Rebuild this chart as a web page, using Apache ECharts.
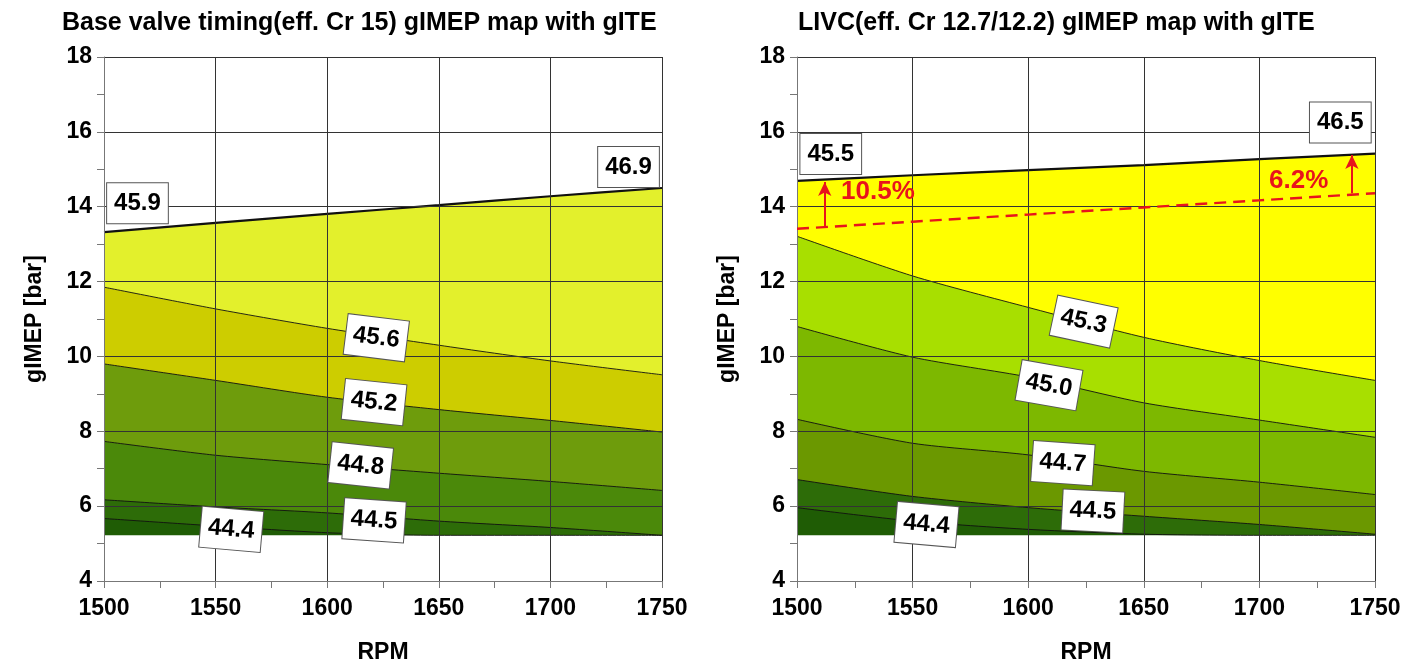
<!DOCTYPE html>
<html>
<head>
<meta charset="utf-8">
<script src="https://cdn.jsdelivr.net/npm/echarts@6/dist/echarts.min.js"></script>
<style>
  html, body { margin: 0; padding: 0; background: #fff; }
  #chart { width: 1413px; height: 669px; }
</style>
</head>
<body>
<div id="chart"></div>
<script>
// RPM points where the contour lines were read
var rpm = [1500, 1550, 1600, 1650, 1700, 1750];

// bottom edge of the mapped region (both maps)
var floorLine = [5.22, 5.22, 5.22, 5.22, 5.22, 5.22];

// left map: base valve timing, contour lines (gIMEP [bar] at each rpm)
var left444 = [5.67, 5.47, 5.29, 5.22, 5.22, 5.22];
var left445 = [6.17, 5.98, 5.82, 5.60, 5.43, 5.22];
var left448 = [7.73, 7.36, 7.11, 6.88, 6.66, 6.42];
var left452 = [9.80, 9.36, 8.91, 8.58, 8.29, 7.98];
var left456 = [11.85, 11.27, 10.75, 10.30, 9.88, 9.51];
var leftTop = [13.32, 13.57, 13.81, 14.04, 14.28, 14.50];

// right map: LIVC
var right444 = [5.96, 5.60, 5.38, 5.25, 5.22, 5.22];
var right445 = [6.71, 6.26, 5.96, 5.73, 5.51, 5.25];
var right447 = [8.32, 7.68, 7.37, 6.93, 6.64, 6.31];
var right450 = [10.80, 9.98, 9.45, 8.76, 8.30, 7.84];
var right453 = [13.21, 12.15, 11.31, 10.51, 9.89, 9.36];
var rightTop = [14.69, 14.84, 14.98, 15.11, 15.27, 15.42];
// base valve timing max load, drawn dashed on the right map
var rightBaseTop = [13.41, 13.60, 13.79, 13.98, 14.17, 14.36];

// contour labels: [text, rpm, gIMEP, angle]
var leftLabels = [
  ['45.9', 1515, 14.09, 0],
  ['46.9', 1735, 15.06, 0],
  ['45.6', 1622, 10.50, -7],
  ['45.2', 1621, 8.78, -6],
  ['44.8', 1615, 7.09, -6],
  ['44.5', 1621, 5.62, -4],
  ['44.4', 1557, 5.38, -5]
];
var rightLabels = [
  ['45.5', 1514.6, 15.41, 0],
  ['46.5', 1735, 16.25, 0],
  ['45.3', 1624, 10.93, -12],
  ['45.0', 1609, 9.23, -10],
  ['44.7', 1615, 7.15, -4],
  ['44.5', 1628, 5.87, -3],
  ['44.4', 1556, 5.51, -5]
];
// load gain arrows: [text, text rpm, text gIMEP, arrow rpm, from, to]
var gains = [
  ['10.5%', 1535, 14.40, 1512, 13.47, 14.66],
  ['6.2%', 1717, 14.69, 1740, 14.36, 15.38]
];

// band colours, top band first
var leftColors = ['#e3f02c', '#cdcd00', '#6e9c0c', '#4b890a', '#2d6c08', '#1f5c05'];
var rightColors = ['#ffff00', '#a8df00', '#7db800', '#6b9800', '#2d6c08', '#1f5c05'];

var FONT = '"Liberation Sans", Arial, sans-serif';

function pairs(arr) {
  return rpm.map(function (r, i) { return [r, arr[i]]; });
}

// each contour filled down to the axis, top one first so lower bands paint over it
function bands(idx, lines, colors) {
  var out = lines.map(function (ln, b) {
    return {
      type: 'line', xAxisIndex: idx, yAxisIndex: idx, z: 2,
      symbol: 'none', silent: true, smooth: 0.25,
      lineStyle: { color: '#111', width: b === 0 ? 2.2 : 0.9 },
      areaStyle: { color: colors[b], opacity: 1, origin: 'start' },
      data: pairs(ln)
    };
  });
  out.push({
    type: 'line', xAxisIndex: idx, yAxisIndex: idx, z: 2,
    symbol: 'none', silent: true,
    lineStyle: { opacity: 0 },
    areaStyle: { color: '#fff', opacity: 1, origin: 'start' },
    data: pairs(floorLine)
  });
  return out;
}

function labelSeries(idx, labels) {
  return {
    type: 'scatter', xAxisIndex: idx, yAxisIndex: idx, symbolSize: 0, z: 10, silent: true,
    itemStyle: { opacity: 1 },
    data: labels.map(function (l) {
      return {
        value: [l[1], l[2]],
        label: {
          show: true, position: 'inside', formatter: l[0], rotate: l[3], opacity: 1,
          fontFamily: FONT, fontSize: 24, fontWeight: 'bold', color: '#000',
          backgroundColor: '#fff', borderColor: '#555', borderWidth: 1,
          padding: [9, 7, 7, 7]
        }
      };
    })
  };
}

function makeAxes(idx) {
  var common = {
    gridIndex: idx, type: 'value', z: 5,
    axisLine: { show: true, lineStyle: { color: '#777', width: 1 } },
    axisTick: { show: true, length: 7, lineStyle: { color: '#777' } },
    minorTick: { show: true, splitNumber: 2, length: 7, lineStyle: { color: '#777' } },
    splitLine: { show: true, lineStyle: { color: '#333', width: 1 } },
    axisLabel: {
      fontFamily: FONT, fontSize: 23, fontWeight: 'bold', color: '#000',
      formatter: function (v) { return String(v); }
    },
    nameLocation: 'middle',
    nameTextStyle: { fontFamily: FONT, fontSize: 23, fontWeight: 'bold', color: '#000' }
  };
  var x = Object.assign({}, common, {
    min: 1500, max: 1750, interval: 50, name: 'RPM', nameGap: 60,
    axisLabel: Object.assign({}, common.axisLabel, { margin: 16 })
  });
  var y = Object.assign({}, common, {
    min: 4, max: 18, interval: 2, name: 'gIMEP [bar]', nameGap: 58,
    axisLabel: Object.assign({}, common.axisLabel, { margin: 12 })
  });
  return { x: x, y: y };
}

var chart = echarts.init(document.getElementById('chart'), null, { renderer: 'canvas' });
var a0 = makeAxes(0), a1 = makeAxes(1);

var series = []
  .concat(bands(0, [leftTop, left456, left452, left448, left445, left444], leftColors))
  .concat(bands(1, [rightTop, right453, right450, right447, right445, right444], rightColors));

series.push({
  type: 'line', xAxisIndex: 1, yAxisIndex: 1, symbol: 'none', silent: true, z: 6,
  lineStyle: { color: '#e8141c', width: 2.4, type: [12, 7] },
  data: pairs(rightBaseTop),
  markLine: {
    silent: true, symbol: ['none', 'arrow'], symbolSize: [10, 14],
    label: { show: false },
    lineStyle: { color: '#e8141c', width: 2, type: 'solid' },
    data: gains.map(function (g) {
      return [{ coord: [g[3], g[4]] }, { coord: [g[3], g[5]] }];
    })
  }
});
series.push({
  type: 'scatter', xAxisIndex: 1, yAxisIndex: 1, symbolSize: 0, z: 10, silent: true,
  itemStyle: { opacity: 1 },
  data: gains.map(function (g) {
    return {
      value: [g[1], g[2]],
      label: {
        show: true, position: 'inside', formatter: g[0], opacity: 1,
        fontFamily: FONT, fontSize: 26, fontWeight: 'bold', color: '#e8141c'
      }
    };
  })
});
series.push(labelSeries(0, leftLabels));
series.push(labelSeries(1, rightLabels));

chart.setOption({
  animation: false,
  backgroundColor: '#fff',
  title: [
    { text: 'Base valve timing(eff. Cr 15) gIMEP map with gITE', left: 57, top: 6,
      textStyle: { fontFamily: FONT, fontSize: 25, fontWeight: 'bold', color: '#000' } },
    { text: 'LIVC(eff. Cr 12.7/12.2) gIMEP map with gITE', left: 793, top: 6,
      textStyle: { fontFamily: FONT, fontSize: 25, fontWeight: 'bold', color: '#000' } }
  ],
  grid: [
    { left: 104, right: 751, top: 57, bottom: 88 },
    { left: 797, right: 38, top: 57, bottom: 87 }
  ],
  xAxis: [a0.x, a1.x],
  yAxis: [a0.y, a1.y],
  series: series
});
</script>
</body>
</html>
